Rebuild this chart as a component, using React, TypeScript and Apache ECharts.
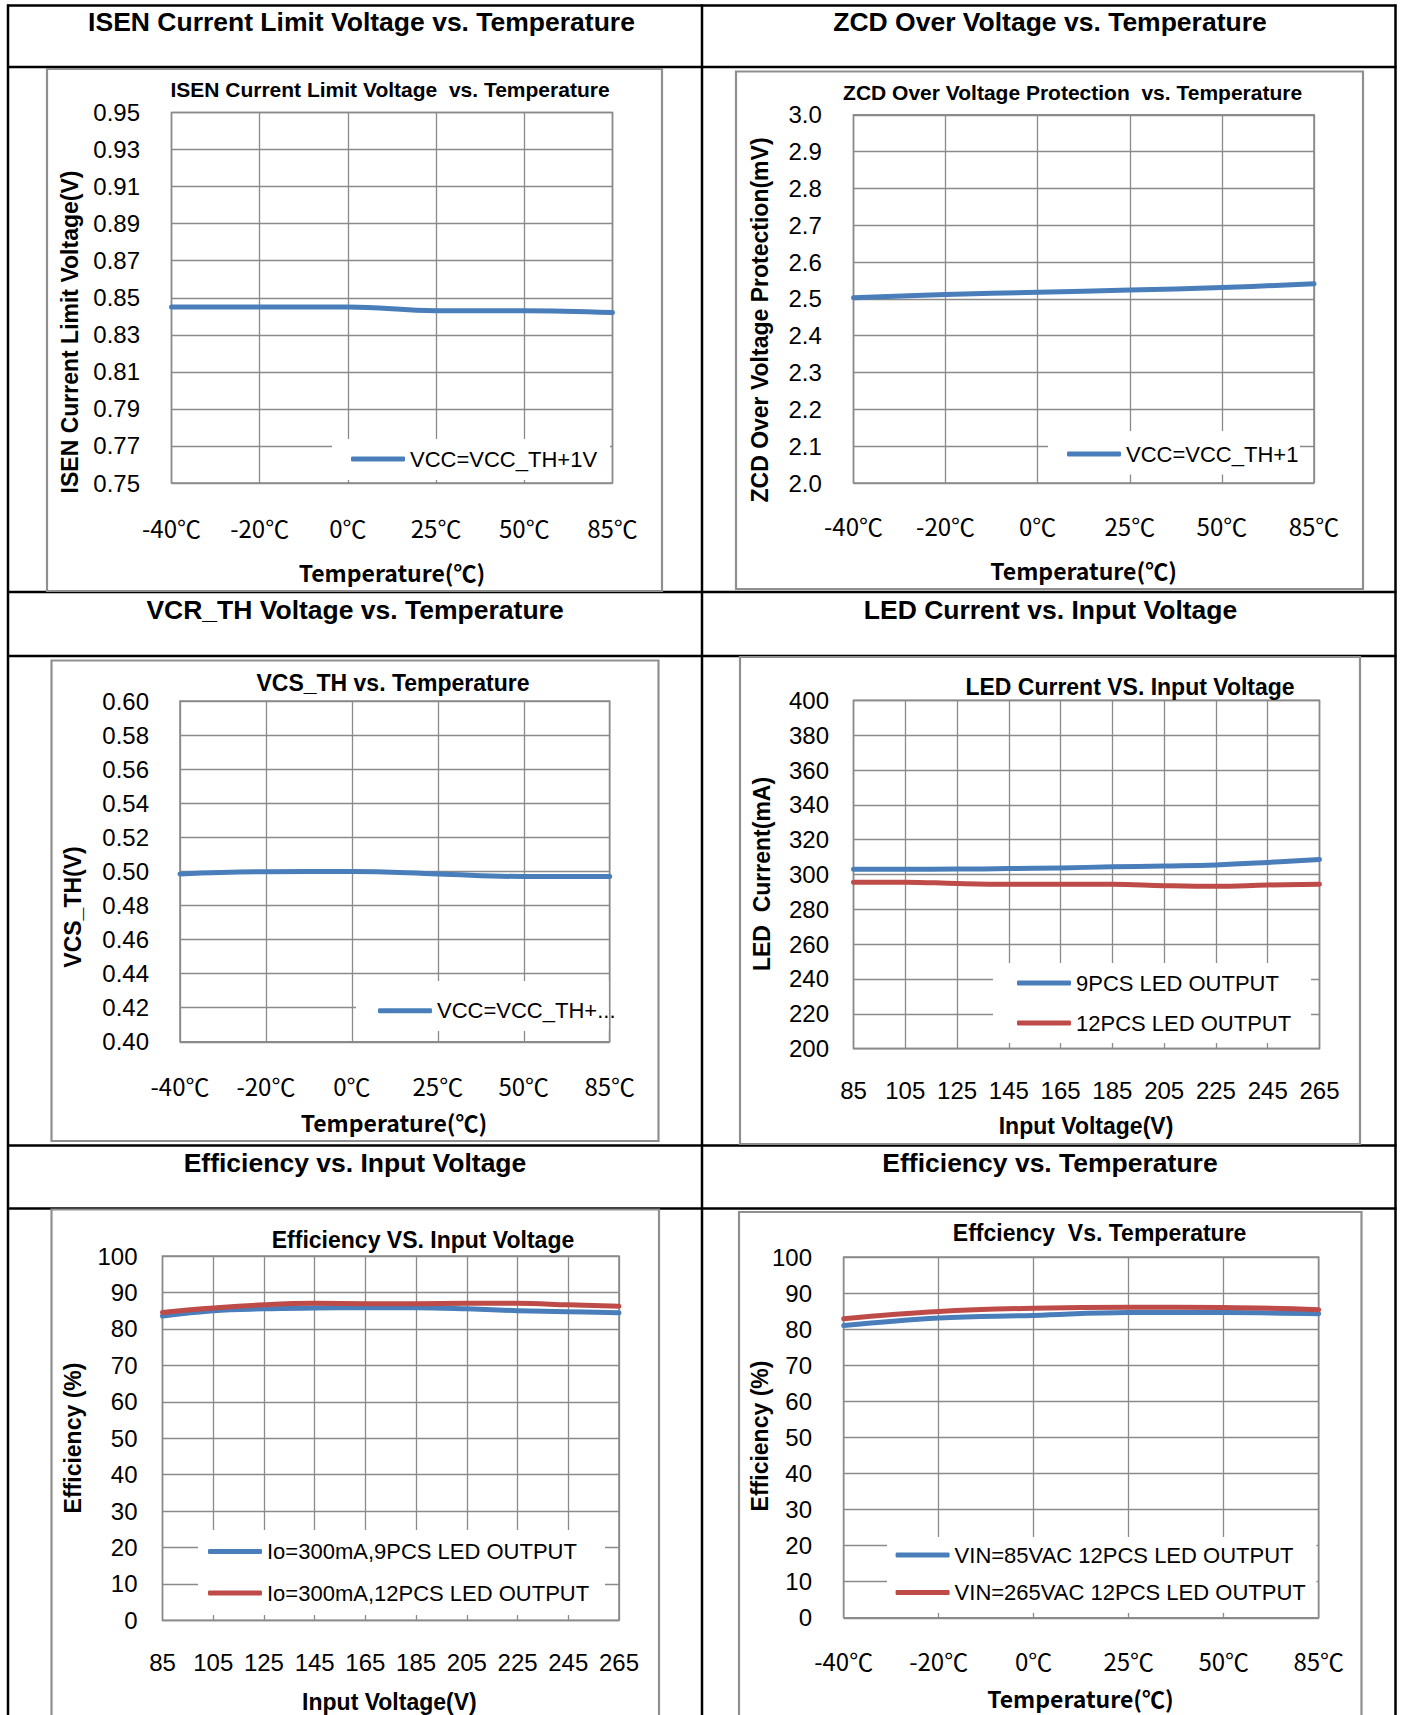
import React, { useEffect, useRef } from 'react';
import * as echarts from 'echarts';

// ---------- data ----------
const tempCats = ['-40℃', '-20℃', '0℃', '25℃', '50℃', '85℃'];
const vinCats = ['85', '105', '125', '145', '165', '185', '205', '225', '245', '265'];

const isenVals = [0.845, 0.845, 0.845, 0.843, 0.843, 0.842];
const zcdVals = [2.503, 2.512, 2.518, 2.524, 2.531, 2.541];
const vcsVals = [0.4985, 0.4998, 0.4999, 0.4985, 0.497, 0.497];
const led9Vals = [303, 303, 303.1, 303.4, 303.8, 304.4, 304.9, 305.5, 306.9, 308.6];
const led12Vals = [295.6, 295.6, 294.8, 294.4, 294.4, 294.4, 293.6, 293.2, 294.0, 294.4];
const effVin9Vals = [83.5, 85.0, 85.5, 85.7, 85.8, 85.8, 85.5, 85.0, 84.7, 84.4];
const effVin12Vals = [84.5, 85.7, 86.6, 87.0, 86.9, 86.9, 87.0, 87.0, 86.6, 86.2];
const effT85Vals = [81.0, 83.1, 83.8, 84.6, 84.6, 84.3];
const effT265Vals = [82.9, 84.9, 85.8, 86.1, 86.0, 85.4];

const headerTitles = [
  'ISEN Current Limit Voltage vs. Temperature',
  'ZCD Over Voltage vs. Temperature',
  'VCR_TH Voltage vs. Temperature',
  'LED Current vs. Input Voltage',
  'Efficiency vs. Input Voltage',
  'Efficiency vs. Temperature',
];

// ---------- styles ----------
const FONT = "'Liberation Sans', 'Noto Sans CJK SC', sans-serif";
const CJK = "'Noto Sans CJK SC', 'Liberation Sans', sans-serif";
const BLUE = '#4A7EBB';
const RED = '#BE4B48';
const GRID_C = '#8a8a8a';
const FRAME_C = '#8f8f8f';

type S = { name: string; data: number[]; color: string; label?: string };
type Cfg = {
  frame: number[];
  grid: number[];
  title: string;
  titlePos: number[];
  titleSize: number;
  yName: string;
  yNamePos: number[];
  xName: string;
  xNamePos: number[];
  cats: string[];
  temp: boolean;
  yMin: number;
  yMax: number;
  yInterval: number;
  yDec: number;
  yLabelMargin: number;
  xLabelMargin: number;
  series: S[];
  legendBox: number[];
  legendLeft: number;
  legendTop: number;
  legendGap: number;
};

const cfgs: Cfg[] = [
  {
    frame: [47, 69, 615, 522],
    grid: [171.5, 112.5, 441, 370.5],
    title: 'ISEN Current Limit Voltage  vs. Temperature',
    titlePos: [390, 89.5],
    titleSize: 21,
    yName: 'ISEN Current Limit Voltage(V)',
    yNamePos: [70, 332],
    xName: 'Temperature(℃)',
    xNamePos: [392, 572],
    cats: tempCats, temp: true,
    yMin: 0.75, yMax: 0.95, yInterval: 0.02, yDec: 2,
    yLabelMargin: 31.5, xLabelMargin: 32,
    series: [{ name: 'VCC=VCC_TH+1V', data: isenVals, color: BLUE }],
    legendBox: [332, 439, 278, 41],
    legendLeft: 351, legendTop: 448, legendGap: 10,
  },
  {
    frame: [736, 71.5, 627, 517.5],
    grid: [853.5, 114.8, 460.5, 368.2],
    title: 'ZCD Over Voltage Protection  vs. Temperature',
    titlePos: [1072.6, 92.5],
    titleSize: 21,
    yName: 'ZCD Over Voltage Protection(mV)',
    yNamePos: [759.5, 320],
    xName: 'Temperature(℃)',
    xNamePos: [1083.6, 570],
    cats: tempCats, temp: true,
    yMin: 2.0, yMax: 3.0, yInterval: 0.1, yDec: 1,
    yLabelMargin: 31.7, xLabelMargin: 30,
    series: [{ name: 'VCC=VCC_TH+1', data: zcdVals, color: BLUE }],
    legendBox: [1048, 431, 252, 43.5],
    legendLeft: 1067, legendTop: 443, legendGap: 10,
  },
  {
    frame: [51.5, 660.5, 607, 480.5],
    grid: [180, 701, 429.7, 340.8],
    title: 'VCS_TH vs. Temperature',
    titlePos: [393, 683.4],
    titleSize: 23,
    yName: 'VCS_TH(V)',
    yNamePos: [73, 907],
    xName: 'Temperature(℃)',
    xNamePos: [394, 1122],
    cats: tempCats, temp: true,
    yMin: 0.4, yMax: 0.6, yInterval: 0.02, yDec: 2,
    yLabelMargin: 31, xLabelMargin: 32,
    series: [{ name: 'VCC=VCC_TH+1V ', data: vcsVals, color: BLUE, label: 'VCC=VCC_TH+...' }],
    legendBox: [356, 981, 253, 50],
    legendLeft: 378, legendTop: 999.7, legendGap: 10,
  },
  {
    frame: [740, 657, 620, 487],
    grid: [853.5, 700.4, 466, 348.2],
    title: 'LED Current VS. Input Voltage',
    titlePos: [1130, 687],
    titleSize: 23,
    yName: 'LED  Current(mA)',
    yNamePos: [762, 874],
    xName: 'Input Voltage(V)',
    xNamePos: [1086, 1125.5],
    cats: vinCats, temp: false,
    yMin: 200, yMax: 400, yInterval: 20, yDec: 0,
    yLabelMargin: 24.5, xLabelMargin: 30,
    series: [
      { name: '9PCS LED OUTPUT', data: led9Vals, color: BLUE },
      { name: '12PCS LED OUTPUT', data: led12Vals, color: RED },
    ],
    legendBox: [993, 963, 318, 80],
    legendLeft: 1017, legendTop: 972, legendGap: 18,
  },
  {
    frame: [51.5, 1209.5, 607.5, 530],
    grid: [162.5, 1256, 456.5, 364.4],
    title: 'Efficiency VS. Input Voltage',
    titlePos: [423, 1240],
    titleSize: 23,
    yName: 'Efficiency (%)',
    yNamePos: [73, 1438],
    xName: 'Input Voltage(V)',
    xNamePos: [389.4, 1702],
    cats: vinCats, temp: false,
    yMin: 0, yMax: 100, yInterval: 10, yDec: 0,
    yLabelMargin: 25, xLabelMargin: 30.5,
    series: [
      { name: 'Io=300mA,9PCS LED OUTPUT', data: effVin9Vals, color: BLUE },
      { name: 'Io=300mA,12PCS LED OUTPUT', data: effVin12Vals, color: RED },
    ],
    legendBox: [198, 1530, 407, 85],
    legendLeft: 208, legendTop: 1540.4, legendGap: 19.6,
  },
  {
    frame: [739, 1212, 622.5, 530],
    grid: [843.7, 1257, 475, 360.8],
    title: 'Effciency  Vs. Temperature',
    titlePos: [1099.6, 1233.3],
    titleSize: 23,
    yName: 'Efficiency (%)',
    yNamePos: [759.5, 1436],
    xName: 'Temperature(℃)',
    xNamePos: [1080.5, 1698],
    cats: tempCats, temp: true,
    yMin: 0, yMax: 100, yInterval: 10, yDec: 0,
    yLabelMargin: 31.7, xLabelMargin: 31,
    series: [
      { name: 'VIN=85VAC 12PCS LED OUTPUT', data: effT85Vals, color: BLUE },
      { name: 'VIN=265VAC 12PCS LED OUTPUT', data: effT265Vals, color: RED },
    ],
    legendBox: [887, 1537, 429.5, 76],
    legendLeft: 895.6, legendTop: 1544, legendGap: 15.5,
  },
];

// table geometry
const TX = [8, 702, 1395.5];
const TY = [5.5, 67, 592, 656, 1145.5, 1208.5];
const headerPos = [
  [361.5, 21.5], [1050, 21.5],
  [355, 610], [1050.5, 610],
  [355, 1163], [1050, 1163],
];

function buildOption(): any {
  const graphic: any[] = [];
  TX.forEach((x) =>
    graphic.push({ type: 'line', shape: { x1: x, y1: TY[0] - 1, x2: x, y2: 1715 }, style: { stroke: '#000', lineWidth: 2.5 } })
  );
  TY.forEach((y) =>
    graphic.push({ type: 'line', shape: { x1: TX[0] - 1, y1: y, x2: TX[2] + 1, y2: y }, style: { stroke: '#000', lineWidth: 2.5 } })
  );
  headerTitles.forEach((t, i) =>
    graphic.push({
      type: 'text', x: headerPos[i][0], y: headerPos[i][1],
      style: { text: t, fill: '#000', fontSize: 26.5, fontWeight: 'bold', fontFamily: FONT, align: 'center', verticalAlign: 'middle' },
    })
  );

  cfgs.forEach((c) => {
    graphic.push({
      type: 'rect', z: 0,
      shape: { x: c.frame[0], y: c.frame[1], width: c.frame[2], height: c.frame[3] },
      style: { fill: 'none', stroke: FRAME_C, lineWidth: 2.2 },
    });
    graphic.push({
      type: 'rect', z: 3,
      shape: { x: c.legendBox[0], y: c.legendBox[1], width: c.legendBox[2], height: c.legendBox[3] },
      style: { fill: '#ffffff', stroke: 'none' },
    });
    graphic.push({
      type: 'rect', z: 4,
      shape: { x: c.grid[0], y: c.grid[1], width: c.grid[2], height: c.grid[3] },
      style: { fill: 'none', stroke: GRID_C, lineWidth: 1.6 },
    });
    graphic.push({
      type: 'text', z: 6, x: c.titlePos[0], y: c.titlePos[1],
      style: { text: c.title, fill: '#000', fontSize: c.titleSize, fontWeight: 'bold', fontFamily: FONT, align: 'center', verticalAlign: 'middle' },
    });
    graphic.push({
      type: 'text', z: 6, x: c.yNamePos[0], y: c.yNamePos[1], rotation: Math.PI / 2,
      style: { text: c.yName, fill: '#000', fontSize: 23, fontWeight: 'bold', fontFamily: FONT, align: 'center', verticalAlign: 'middle' },
    });
    graphic.push({
      type: 'text', z: 6, x: c.xNamePos[0], y: c.xNamePos[1],
      style: {
        text: c.xName, fill: '#000', fontSize: 23, fontWeight: 'bold',
        fontFamily: c.temp ? CJK : FONT, align: 'center', verticalAlign: 'middle',
      },
    });
  });

  const labelMap: Record<string, string> = {};
  cfgs.forEach((c) => c.series.forEach((s) => { labelMap[s.name] = s.label || s.name; }));

  const series: any[] = [];
  cfgs.forEach((c, i) =>
    c.series.forEach((s) =>
      series.push({
        type: 'line', name: s.name, data: s.data, xAxisIndex: i, yAxisIndex: i,
        smooth: 0.4, showSymbol: false, symbol: 'none', z: 5,
        color: s.color,
        lineStyle: { color: s.color, width: 5, cap: 'round', join: 'round' },
      })
    )
  );

  return {
    animation: false,
    backgroundColor: '#ffffff',
    grid: cfgs.map((c) => ({
      left: c.grid[0], top: c.grid[1], width: c.grid[2], height: c.grid[3],
      containLabel: false, outerBoundsMode: 'none', show: false,
    })),
    xAxis: cfgs.map((c, i) => ({
      type: 'category', gridIndex: i, data: c.cats, boundaryGap: false,
      axisLine: { show: false }, axisTick: { show: false },
      axisLabel: {
        interval: 0, margin: c.xLabelMargin, fontSize: 24, lineHeight: 24,
        fontFamily: c.temp ? CJK : FONT, color: '#000',
      },
      splitLine: { show: true, interval: 0, lineStyle: { color: GRID_C, width: 1.3 } },
    })),
    yAxis: cfgs.map((c, i) => ({
      type: 'value', gridIndex: i, min: c.yMin, max: c.yMax, interval: c.yInterval,
      axisLine: { show: false }, axisTick: { show: false },
      axisLabel: {
        margin: c.yLabelMargin, fontSize: 24, fontFamily: FONT, color: '#000',
        formatter: (v: number) => v.toFixed(c.yDec),
      },
      splitLine: { show: true, lineStyle: { color: GRID_C, width: 1.3 } },
    })),
    legend: cfgs.map((c) => ({
      data: c.series.map((s) => s.name),
      orient: 'vertical', left: c.legendLeft, top: c.legendTop,
      itemWidth: 54, itemHeight: 5, itemGap: c.legendGap, icon: 'roundRect',
      padding: 0, selectedMode: false, z: 6,
      formatter: (n: string) => labelMap[n] || n,
      textStyle: { fontSize: 22, lineHeight: 22, fontFamily: FONT, color: '#000' },
    })),
    series,
    graphic: { elements: graphic },
  };
}

export default function App() {
  const ref = useRef<HTMLDivElement>(null);
  useEffect(() => {
    if (!ref.current) return;
    const chart = echarts.init(ref.current, null, { renderer: 'svg' });
    chart.setOption(buildOption());
    return () => chart.dispose();
  }, []);
  return (
    <div
      ref={ref}
      style={{ position: 'absolute', left: 0, top: 0, width: 1402, height: 1715, background: '#fff' }}
    />
  );
}
